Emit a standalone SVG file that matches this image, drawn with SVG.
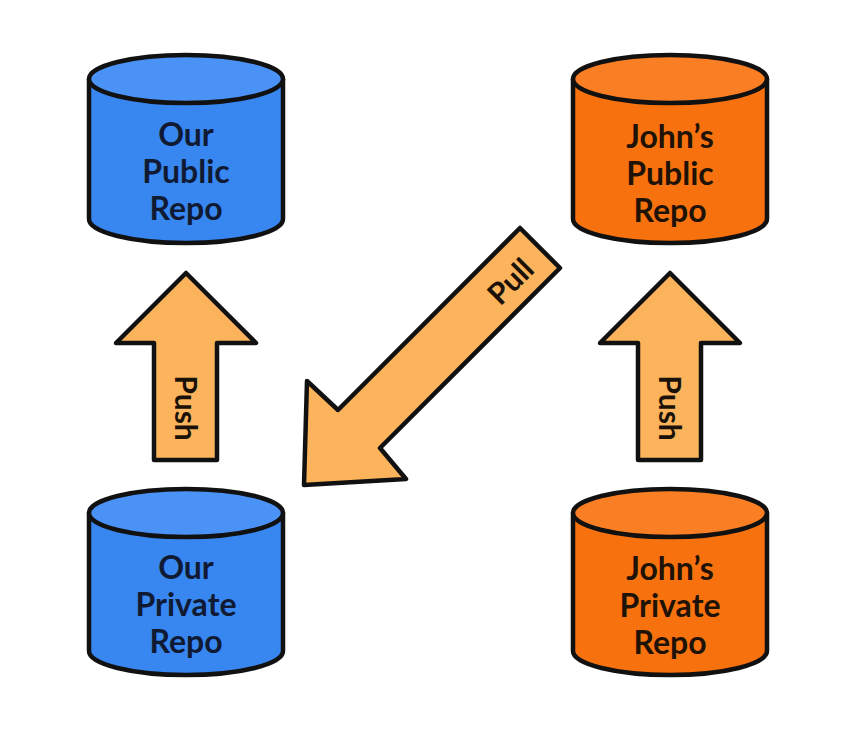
<svg xmlns="http://www.w3.org/2000/svg" width="860" height="736" viewBox="0 0 860 736">
<style>
.blue-body{fill:#3886f0;stroke:#111;stroke-width:4.5;stroke-linejoin:round}
.blue-top{fill:#4a92f5;stroke:#111;stroke-width:4.5}
.or-body{fill:#f7710f;stroke:#111;stroke-width:4.5;stroke-linejoin:round}
.or-top{fill:#f97e24;stroke:#111;stroke-width:4.5}
.arrow{fill:#fbb35c;stroke:#111;stroke-width:4.5;stroke-linejoin:round}
.lbl{font-family:Lato,"Open Sans","Liberation Sans",sans-serif;font-weight:bold;font-size:32px;text-anchor:middle}
.lb{fill:#101a33}
.lo{fill:#1f1206}
.al{font-family:Lato,"Open Sans","Liberation Sans",sans-serif;font-weight:bold;font-size:30px;text-anchor:middle;fill:#1a1208}
</style>
<rect width="860" height="736" fill="#fff"/>
<g id="our-public">
<path class="blue-body" d="M89,79 L89,219 A97,24 0 0 0 283,219 L283,79 Z"/>
<ellipse class="blue-top" cx="186" cy="79" rx="97" ry="24"/>
<text class="lbl lb" x="186" y="146">Our</text>
<text class="lbl lb" x="186" y="183">Public</text>
<text class="lbl lb" x="186" y="220">Repo</text>
</g>
<g id="john-public">
<path class="or-body" d="M573,79 L573,219 A97,24 0 0 0 767,219 L767,79 Z"/>
<ellipse class="or-top" cx="670" cy="79" rx="97" ry="24"/>
<text class="lbl lo" x="670" y="148">John’s</text>
<text class="lbl lo" x="670" y="185">Public</text>
<text class="lbl lo" x="670" y="222">Repo</text>
</g>
<g id="our-private">
<path class="blue-body" d="M89,513 L89,651 A97,24 0 0 0 283,651 L283,513 Z"/>
<ellipse class="blue-top" cx="186" cy="513" rx="97" ry="24"/>
<text class="lbl lb" x="186" y="579">Our</text>
<text class="lbl lb" x="186" y="616">Private</text>
<text class="lbl lb" x="186" y="653">Repo</text>
</g>
<g id="john-private">
<path class="or-body" d="M573,513 L573,651 A97,24 0 0 0 767,651 L767,513 Z"/>
<ellipse class="or-top" cx="670" cy="513" rx="97" ry="24"/>
<text class="lbl lo" x="670" y="580">John’s</text>
<text class="lbl lo" x="670" y="617">Private</text>
<text class="lbl lo" x="670" y="654">Repo</text>
</g>
<g id="connectors">
<g id="push-ours">
<path class="arrow" d="M186,273 L256,343 L217,343 L217,460 L154,460 L154,343 L116,343 Z"/>
<text class="al" transform="translate(175,408) rotate(90)">Push</text>
</g>
<g id="push-john">
<path class="arrow" d="M670,273 L740,343 L701,343 L701,460 L638,460 L638,343 L600,343 Z"/>
<text class="al" transform="translate(659,408) rotate(90)">Push</text>
</g>
<g id="pull">
<path class="arrow" d="M520,228 L560,268 L380,448 L406,479 L304,485 L307,381 L338,410 Z"/>
<text class="al" transform="translate(518,289) rotate(-45)">Pull</text>
</g>
</g>
</svg>
